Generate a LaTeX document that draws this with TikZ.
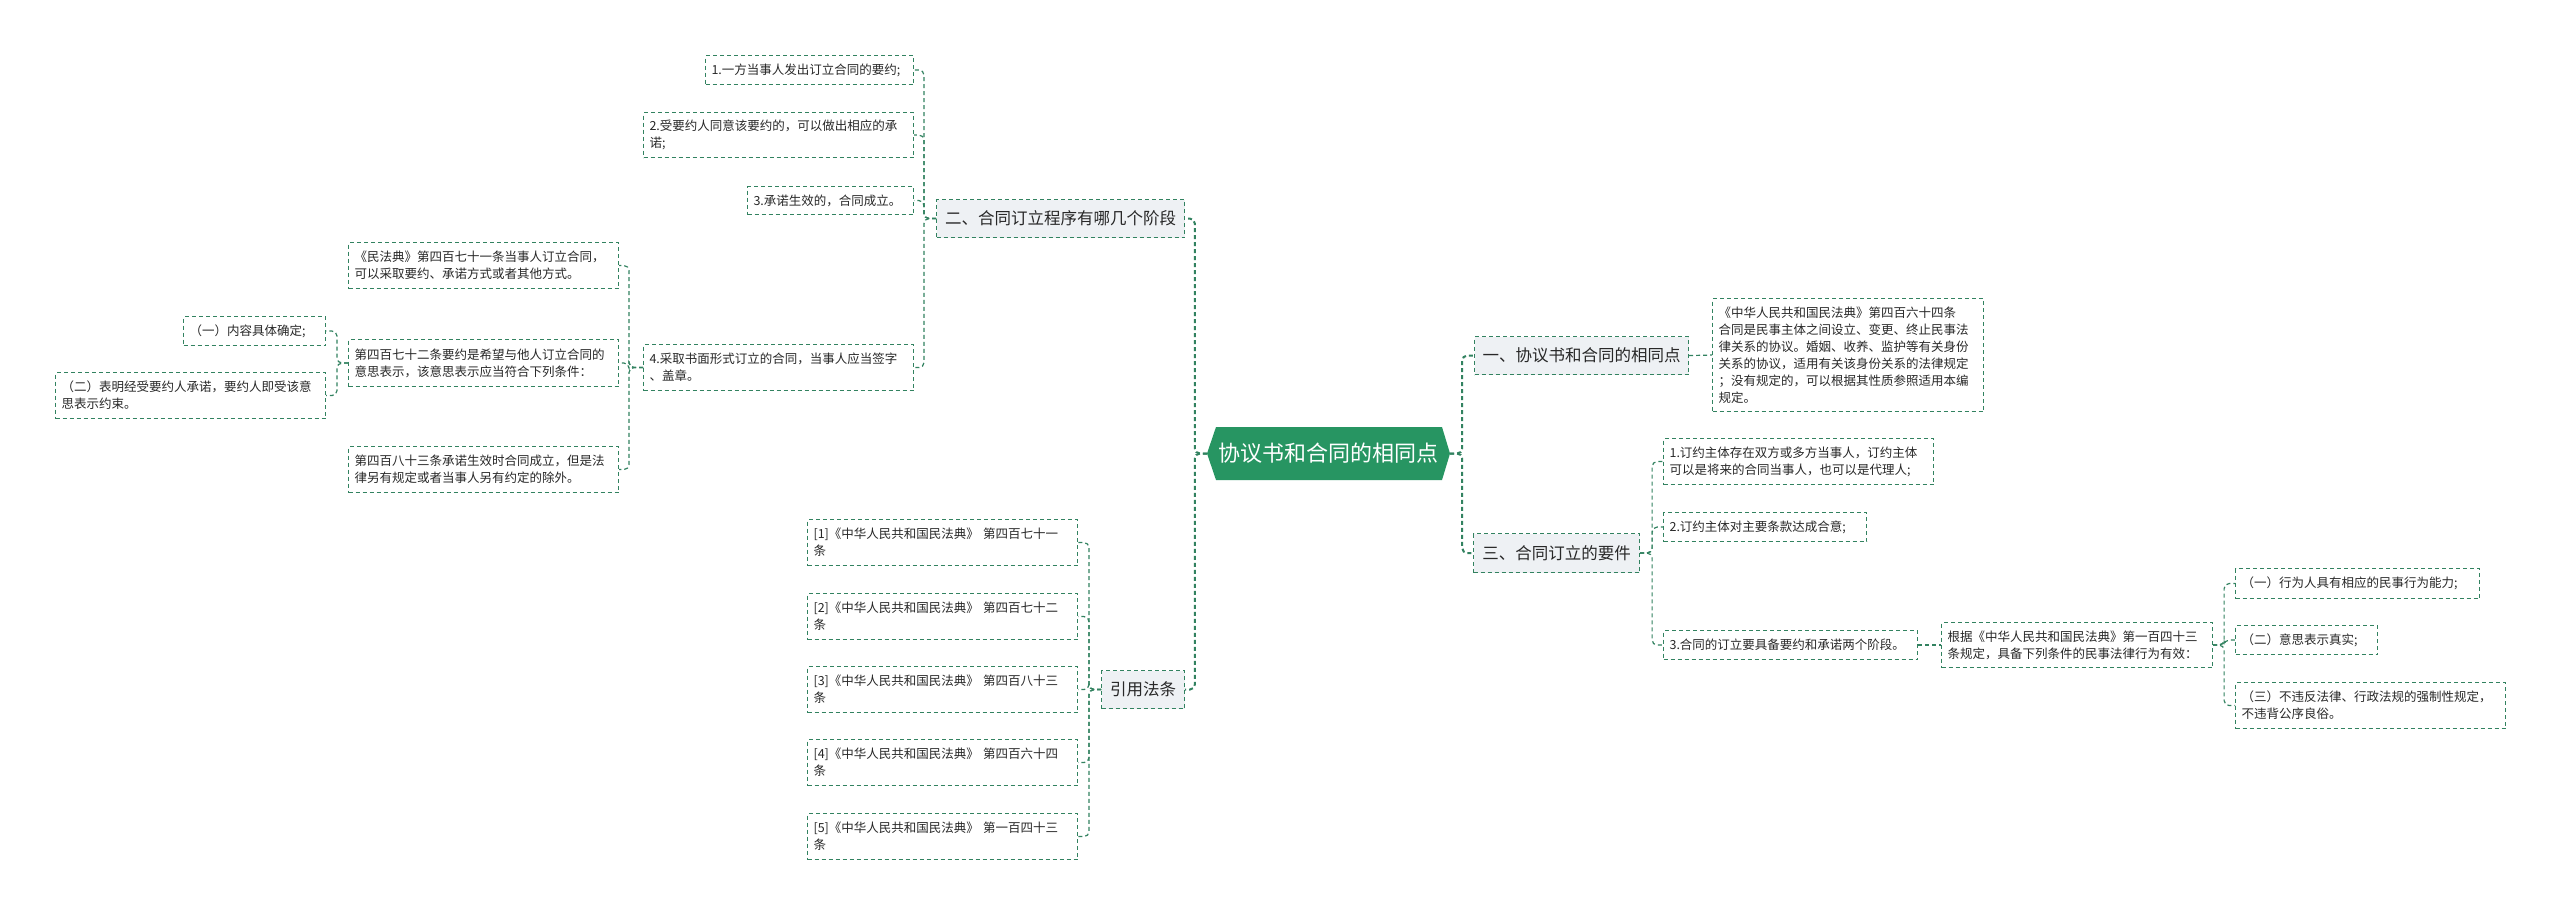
\documentclass[tikz,border=0pt]{standalone}
\usepackage{fontspec}
\setmainfont{Noto Sans CJK SC}
\definecolor{lg}{RGB}{50,130,96}
\definecolor{cfill}{RGB}{39,149,98}
\definecolor{lfill}{RGB}{238,241,244}
\definecolor{tgray}{RGB}{40,40,40}
\tikzset{
  box/.style={draw=lg, dash pattern=on 4pt off 3pt, line width=1.1pt, anchor=north west,
              inner xsep=6pt, inner ysep=3pt, align=left, text=tgray},
  leaf/.style={box, fill=white, font=\fontsize{12.5}{17}\selectfont},
  topic/.style={box, fill=lfill, inner xsep=7pt, font=\fontsize{16.5}{20}\selectfont},
  sz/.style 2 args={minimum width=#1pt, minimum height=#2pt},
  lz/.style 2 args={minimum width=#1pt, minimum height=#2pt, text width=#1pt-12pt},
  conn/.style={draw=lg, dash pattern=on 4pt off 3pt, line width=1.2pt, rounded corners=5pt},
  trunk/.style={conn, line width=2pt},
}
\begin{document}
\begin{tikzpicture}[x=1pt,y=-1pt]
\useasboundingbox[fill=white] (0,0) rectangle (2560,914);

% centre
\fill[cfill] (1216,427) -- (1442,427) -- (1450,453.5) -- (1442,480) -- (1216,480) -- (1207,453.5) -- cycle;
\node[font=\fontsize{22}{26}\selectfont, text=white, minimum width=243pt, minimum height=53pt, inner sep=0pt] (c) at (1328.5,453.5) {协议书和合同的相同点};

% left branch: 二
\node[topic, sz={248}{38}] (n2) at (936,199) {二、合同订立程序有哪几个阶段};
\node[leaf, lz={208}{29}] (a1) at (705,55) {1.一方当事人发出订立合同的要约;};
\node[leaf, lz={270}{45}] (a2) at (643,112) {2.受要约人同意该要约的，可以做出相应的承\\诺;};
\node[leaf, lz={166}{28}] (a3) at (747,186) {3.承诺生效的，合同成立。};
\node[leaf, lz={270}{46}] (a4) at (643,344) {4.采取书面形式订立的合同，当事人应当签字\\、盖章。};
\node[leaf, lz={270}{46}] (b1) at (348,242) {《民法典》第四百七十一条当事人订立合同，\\可以采取要约、承诺方式或者其他方式。};
\node[leaf, lz={270}{47}] (b2) at (348,339) {第四百七十二条要约是希望与他人订立合同的\\意思表示，该意思表示应当符合下列条件：};
\node[leaf, lz={270}{46}] (b3) at (348,446) {第四百八十三条承诺生效时合同成立，但是法\\律另有规定或者当事人另有约定的除外。};
\node[leaf, lz={142}{29}] (c1) at (183,316) {（一）内容具体确定;};
\node[leaf, lz={270}{46}] (c2) at (55,372) {（二）表明经受要约人承诺，要约人即受该意\\思表示约束。};

% left branch: 引用法条
\node[topic, sz={83}{38}] (ref) at (1101,670) {引用法条};
\node[leaf, lz={270}{46}] (r1) at (807,519) {[1]《中华人民共和国民法典》~第四百七十一\\条};
\node[leaf, lz={270}{46}] (r2) at (807,593) {[2]《中华人民共和国民法典》~第四百七十二\\条};
\node[leaf, lz={270}{46}] (r3) at (807,666) {[3]《中华人民共和国民法典》~第四百八十三\\条};
\node[leaf, lz={270}{46}] (r4) at (807,739) {[4]《中华人民共和国民法典》~第四百六十四\\条};
\node[leaf, lz={270}{46}] (r5) at (807,813) {[5]《中华人民共和国民法典》~第一百四十三\\条};

% right branch: 一
\node[topic, sz={214}{38}] (n1) at (1474,336) {一、协议书和合同的相同点};
\node[leaf, lz={271}{113}] (d1) at (1712,298) {《中华人民共和国民法典》第四百六十四条\\合同是民事主体之间设立、变更、终止民事法\\律关系的协议。婚姻、收养、监护等有关身份\\关系的协议，适用有关该身份关系的法律规定\\；没有规定的，可以根据其性质参照适用本编\\规定。};

% right branch: 三
\node[topic, sz={166}{39}] (n3) at (1473,533) {三、合同订立的要件};
\node[leaf, lz={270}{46}] (e1) at (1663,438) {1.订约主体存在双方或多方当事人，订约主体\\可以是将来的合同当事人，也可以是代理人;};
\node[leaf, lz={203}{29}] (e2) at (1663,512) {2.订约主体对主要条款达成合意;};
\node[leaf, lz={254}{29}] (e3) at (1663,630) {3.合同的订立要具备要约和承诺两个阶段。};
\node[leaf, lz={271}{45}] (f) at (1941,622) {根据《中华人民共和国民法典》第一百四十三\\条规定，具备下列条件的民事法律行为有效：};
\node[leaf, lz={244}{30}] (g1) at (2235,568) {（一）行为人具有相应的民事行为能力;};
\node[leaf, lz={142}{29}] (g2) at (2235,625) {（二）意思表示真实;};
\node[leaf, lz={270}{46}] (g3) at (2235,682) {（三）不违反法律、行政法规的强制性规定，\\不违背公序良俗。};

% connectors
\draw[trunk] (c.west) -- ++(-12,0) |- (n2.east);
\draw[trunk] (c.west) -- ++(-12,0) |- (ref.east);
\draw[trunk] (c.east) -- ++(12,0) |- (n1.west);
\draw[trunk] (c.east) -- ++(12,0) |- (n3.west);

\foreach \t in {a1,a2,a3,a4} \draw[conn] (n2.west) -- ++(-12,0) |- (\t.east);
\foreach \t in {b1,b2,b3} \draw[conn] (a4.west) -- ++(-14,0) |- (\t.east);
\foreach \t in {c1,c2} \draw[conn] (b2.west) -- ++(-11,0) |- (\t.east);
\foreach \t in {r1,r2,r3,r4,r5} \draw[conn] (ref.west) -- ++(-12,0) |- (\t.east);
\draw[conn] (n1.east) -- (d1.west);
\foreach \t in {e1,e2,e3} \draw[conn] (n3.east) -- ++(12,0) |- (\t.west);
\draw[conn] (e3.east) -- (f.west);
\foreach \t in {g1,g2,g3} \draw[conn] (f.east) -- ++(11,0) |- (\t.west);
\end{tikzpicture}
\end{document}
